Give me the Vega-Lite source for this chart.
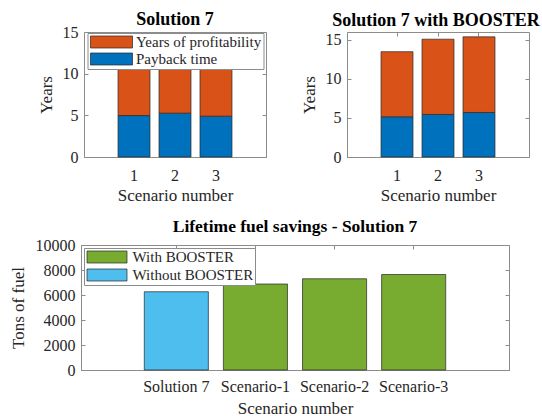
{
  "$schema": "https://vega.github.io/schema/vega-lite/v6.json",
  "background": "white",
  "padding": {"left": 8, "top": 10, "right": 0, "bottom": 0},
  "datasets": {
    "sol7": [
      {"scenario": 1, "series": "Payback time", "years": 4.97},
      {"scenario": 1, "series": "Years of profitability", "years": 5.58},
      {"scenario": 2, "series": "Payback time", "years": 5.26},
      {"scenario": 2, "series": "Years of profitability", "years": 5.29},
      {"scenario": 3, "series": "Payback time", "years": 4.9},
      {"scenario": 3, "series": "Years of profitability", "years": 5.65}
    ],
    "booster": [
      {"scenario": 1, "series": "Payback time", "years": 5.15},
      {"scenario": 1, "series": "Years of profitability", "years": 8.33},
      {"scenario": 2, "series": "Payback time", "years": 5.45},
      {"scenario": 2, "series": "Years of profitability", "years": 9.63},
      {"scenario": 3, "series": "Payback time", "years": 5.7},
      {"scenario": 3, "series": "Years of profitability", "years": 9.68}
    ],
    "fuel": [
      {"case": "Solution 7", "type": "Without BOOSTER", "tons": 6260},
      {"case": "Scenario-1", "type": "With BOOSTER", "tons": 6880},
      {"case": "Scenario-2", "type": "With BOOSTER", "tons": 7300},
      {"case": "Scenario-3", "type": "With BOOSTER", "tons": 7640}
    ],
    "blank": [{"a": 0}]
  },
  "bounds": "flush",
  "spacing": 213,
  "resolve": {"scale": {"color": "independent"}, "legend": {"color": "independent"}},
  "vconcat": [
    {
      "bounds": "flush",
      "spacing": 2,
      "resolve": {"scale": {"color": "independent"}, "legend": {"color": "independent"}},
      "hconcat": [
        {
          "width": 1,
          "height": 1,
          "view": {"stroke": null},
          "data": {"name": "blank"},
          "mark": {"type": "point", "opacity": 0},
          "encoding": {}
        },
        {
          "bounds": "flush",
          "spacing": 81,
          "resolve": {"scale": {"color": "independent"}, "legend": {"color": "independent"}},
          "hconcat": [
            {
              "width": 182,
              "height": 125,
              "title": {"text": "Solution 7", "dy": 6.5},
              "data": {"name": "sol7"},
              "layer": [
                {
                  "mark": {"type": "bar", "stroke": "#262626", "strokeWidth": 0.7},
                  "encoding": {
                    "x": {"field": "scenario", "type": "ordinal", "scale": {"paddingInner": 0.22, "paddingOuter": 0.83}, "axis": {"title": "Scenario number", "titlePadding": 4}},
                    "y": {"field": "years", "type": "quantitative", "stack": "zero", "scale": {"domain": [0, 15], "nice": false}, "axis": {"title": "Years", "values": [0, 5, 10, 15], "titlePadding": 7}},
                    "color": {"field": "series", "type": "nominal", "scale": {"domain": ["Years of profitability", "Payback time"], "range": ["#D95319", "#0072BD"]},
                      "legend": {"title": null, "orient": "none", "legendX": 3.5, "legendY": 1, "symbolType": "M-1,-1H6V1H-1Z", "symbolSize": 144, "labelOffset": 32, "rowPadding": 1, "padding": 1.5}},
                    "order": {"field": "series", "sort": "ascending"}
                  }
                },
                {
                  "mark": {"type": "point", "opacity": 0},
                  "encoding": {
                    "x": {"field": "scenario", "type": "ordinal", "axis": {"orient": "top", "labels": false, "title": null, "domain": false}},
                    "y": {"field": "years", "type": "quantitative", "axis": {"orient": "right", "labels": false, "title": null, "domain": false, "values": [0, 5, 10, 15]}}
                  }
                }
              ],
              "resolve": {"axis": {"x": "independent", "y": "independent"}}
            },
            {
              "width": 182,
              "height": 125,
              "title": {"text": "Solution 7 with BOOSTER", "dx": -2},
              "data": {"name": "booster"},
              "layer": [
                {
                  "mark": {"type": "bar", "stroke": "#262626", "strokeWidth": 0.7},
                  "encoding": {
                    "x": {"field": "scenario", "type": "ordinal", "scale": {"paddingInner": 0.22, "paddingOuter": 0.83}, "axis": {"title": "Scenario number", "titlePadding": 4}},
                    "y": {"field": "years", "type": "quantitative", "stack": "zero", "scale": {"domain": [0, 16], "nice": false}, "axis": {"title": "Years", "values": [0, 5, 10, 15], "titlePadding": 7}},
                    "color": {"field": "series", "type": "nominal", "scale": {"domain": ["Years of profitability", "Payback time"], "range": ["#D95319", "#0072BD"]}, "legend": null},
                    "order": {"field": "series", "sort": "ascending"}
                  }
                },
                {
                  "mark": {"type": "point", "opacity": 0},
                  "encoding": {
                    "x": {"field": "scenario", "type": "ordinal", "axis": {"orient": "top", "labels": false, "title": null, "domain": false}},
                    "y": {"field": "years", "type": "quantitative", "axis": {"orient": "right", "labels": false, "title": null, "domain": false, "values": [0, 5, 10, 15]}}
                  }
                }
              ],
              "resolve": {"axis": {"x": "independent", "y": "independent"}}
            }
          ]
        }
      ]
    },
    {
      "width": 428,
      "height": 125,
      "title": {"text": "Lifetime fuel savings - Solution 7", "fontSize": 17.5},
      "data": {"name": "fuel"},
      "layer": [
        {
          "mark": {"type": "bar", "stroke": "#262626", "strokeWidth": 0.7},
          "encoding": {
            "x": {"field": "case", "type": "nominal", "sort": null, "scale": {"paddingInner": 0.19, "paddingOuter": 0.8}, "axis": {"title": "Scenario number", "labelPadding": 12, "titlePadding": 6}},
            "y": {"field": "tons", "type": "quantitative", "scale": {"domain": [0, 10000], "nice": false}, "axis": {"title": "Tons of fuel", "format": "d", "values": [0, 2000, 4000, 6000, 8000, 10000], "titlePadding": 8}},
            "color": {"field": "type", "type": "nominal", "scale": {"domain": ["With BOOSTER", "Without BOOSTER"], "range": ["#77AC30", "#4DBEEE"]},
              "legend": {"title": null, "orient": "none", "legendX": 3, "legendY": 3, "symbolType": "M-1,-1H5.667V1H-1Z", "symbolSize": 144, "labelOffset": 32, "rowPadding": 2, "padding": 1.5}}
          }
        },
        {
          "mark": {"type": "point", "opacity": 0},
          "encoding": {
            "x": {"field": "case", "type": "nominal", "sort": null, "axis": {"orient": "top", "labels": false, "title": null, "domain": false}},
            "y": {"field": "tons", "type": "quantitative", "axis": {"orient": "right", "labels": false, "title": null, "domain": false, "values": [0, 2000, 4000, 6000, 8000, 10000]}}
          }
        }
      ],
      "resolve": {"axis": {"x": "independent", "y": "independent"}}
    }
  ],
  "config": {
    "font": "Liberation Serif",
    "view": {"stroke": "#8c8c8c", "strokeWidth": 1},
    "axis": {
      "labelFont": "Liberation Serif", "labelFontSize": 16, "labelColor": "#262626",
      "titleFont": "Liberation Serif", "titleFontSize": 17, "titleFontWeight": "normal", "titleColor": "#262626",
      "domainColor": "#8c8c8c", "tickColor": "#8c8c8c", "tickSize": -4, "grid": false,
      "labelPadding": 10, "titlePadding": 5
    },
    "axisX": {"labelAngle": 0, "labelPadding": 14},
    "title": {"font": "Liberation Serif", "fontSize": 18, "fontWeight": "bold", "color": "#000000", "anchor": "middle", "frame": "group", "offset": 2},
    "legend": {
      "labelFont": "Liberation Serif", "labelFontSize": 15, "labelColor": "#262626",
      "strokeColor": "#8c8c8c", "fillColor": "white",
      "symbolStrokeColor": "#262626", "symbolStrokeWidth": 0.7, "symbolOpacity": 1,
      "padding": 3, "rowPadding": 2
    }
  }
}
